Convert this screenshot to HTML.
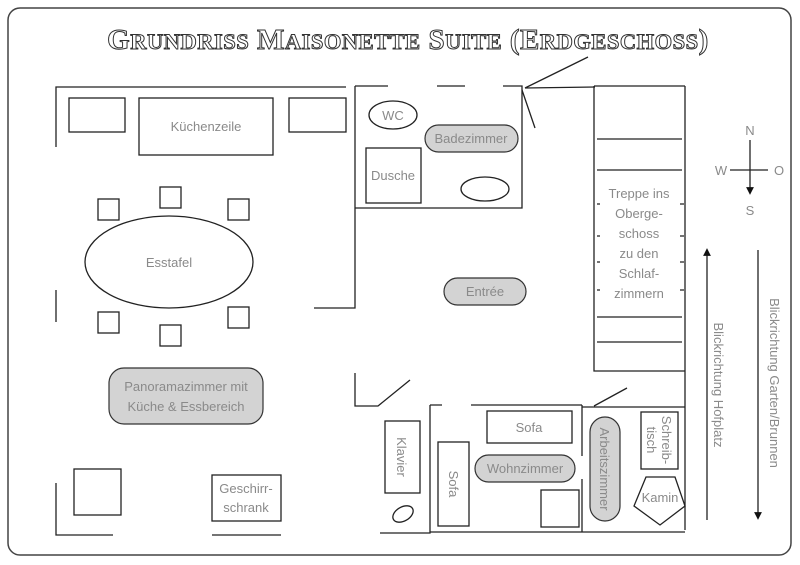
<!DOCTYPE html>
<html><head><meta charset="utf-8"><style>
html,body{margin:0;padding:0;background:#fff}
svg{display:block}
text{font-family:"Liberation Sans",sans-serif;font-size:13px;fill:#8a8a8a}
.t{font-family:"Liberation Serif",serif;font-size:29px;font-weight:bold;fill:#fff;stroke:#333;stroke-width:1;letter-spacing:0.5px}
</style></head><body>
<svg width="800" height="565" viewBox="0 0 800 565" xmlns="http://www.w3.org/2000/svg">
<defs><marker id="a" markerWidth="6" markerHeight="6" refX="3" refY="3" orient="auto"><path d="M0,0L6,3L0,6z" fill="#111"/></marker></defs>
<rect x="8" y="8" width="783" height="547" rx="12" fill="none" stroke="#444" stroke-width="1.5"/>
<text class="t" x="408" y="49" text-anchor="middle">G<tspan font-size="22.5">RUNDRISS</tspan> M<tspan font-size="22.5">AISONETTE</tspan> S<tspan font-size="22.5">UITE</tspan> (E<tspan font-size="22.5">RDGESCHOSS</tspan>)</text>
<g fill="none" stroke="#222" stroke-width="1.3">
<path d="M56,147V87H346M56,290V322M56,483V535H113M212,535H281"/>
<path d="M355,86V308H314M355,86H388M437,86H465M503,86H522V208H355"/>
<path d="M522,90L535,128M525,88L588,57M525,88L595,87"/>
<path d="M685,86V530M594,86H685M594,86V371H685"/>
<path d="M597,139H682M597,170H682M597,317H682M597,342H682"/>
<path d="M597,204H600M680,204H684M597,236H600M680,236H684M597,262H600M680,262H684M597,290H600M680,290H684"/>
<path d="M355,373V406H378L410,380M430,405H442M471,405H582M594,406L627,388M582,407H685"/>
<path d="M430,405V533H380M430,532H582M582,405V456M582,479V532H685"/>
<rect x="69" y="98" width="56" height="34"/><rect x="139" y="98" width="134" height="57"/><rect x="289" y="98" width="57" height="34"/>
<rect x="98" y="199" width="21" height="21"/><rect x="160" y="187" width="21" height="21"/><rect x="228" y="199" width="21" height="21"/>
<rect x="98" y="312" width="21" height="21"/><rect x="160" y="325" width="21" height="21"/><rect x="228" y="307" width="21" height="21"/>
<ellipse cx="169" cy="262" rx="84" ry="46"/>
<rect x="74" y="469" width="47" height="46"/><rect x="212" y="475" width="69" height="46"/>
<ellipse cx="393" cy="115" rx="24" ry="14"/><rect x="366" y="148" width="55" height="55"/><ellipse cx="485" cy="189" rx="24" ry="12"/>
<rect x="385" y="421" width="35" height="72"/><ellipse cx="403" cy="514" rx="11" ry="7" transform="rotate(-30 403 514)"/>
<rect x="438" y="442" width="31" height="84"/><rect x="487" y="411" width="85" height="32"/>
<rect x="541" y="490" width="38" height="37"/><rect x="641" y="412" width="37" height="57"/>
<path d="M646,477H675L685,506L660,525L634,506Z"/>
<path d="M707,520V252" marker-end="url(#a)"/><path d="M758,250V516" marker-end="url(#a)"/>
<path d="M750,140V191" marker-end="url(#a)"/><path d="M730,170H768"/>
</g>
<g fill="#d3d3d3" stroke="#333" stroke-width="1.2">
<rect x="425" y="125" width="93" height="27" rx="13.5"/>
<rect x="444" y="278" width="82" height="27" rx="13.5"/>
<rect x="109" y="368" width="154" height="56" rx="15"/>
<rect x="475" y="455" width="100" height="27" rx="13.5"/>
<rect x="590" y="417" width="30" height="104" rx="15"/>
</g>
<text x="206" y="131" text-anchor="middle">Küchenzeile</text>
<text x="169" y="267" text-anchor="middle">Esstafel</text>
<text x="186" y="391" text-anchor="middle" font-size="14">Panoramazimmer mit</text>
<text x="186" y="411" text-anchor="middle" font-size="14">Küche &amp; Essbereich</text>
<text x="246" y="493" text-anchor="middle">Geschirr-</text>
<text x="246" y="512" text-anchor="middle">schrank</text>
<text x="393" y="120" text-anchor="middle">WC</text>
<text x="471" y="143" text-anchor="middle">Badezimmer</text>
<text x="393" y="180" text-anchor="middle">Dusche</text>
<text x="485" y="296" text-anchor="middle">Entrée</text>
<g text-anchor="middle"><text x="639" y="198">Treppe ins</text><text x="639" y="218">Oberge-</text><text x="639" y="238">schoss</text><text x="639" y="258">zu den</text><text x="639" y="278">Schlaf-</text><text x="639" y="298">zimmern</text></g>
<text x="529" y="432" text-anchor="middle">Sofa</text>
<text x="525" y="473" text-anchor="middle">Wohnzimmer</text>
<text x="660" y="502" text-anchor="middle">Kamin</text>
<text transform="translate(397,457) rotate(90)" text-anchor="middle">Klavier</text>
<text transform="translate(449,484) rotate(90)" text-anchor="middle">Sofa</text>
<text transform="translate(600,469) rotate(90)" text-anchor="middle">Arbeitszimmer</text>
<text transform="translate(662,440) rotate(90)" text-anchor="middle">Schreib-</text>
<text transform="translate(647,440) rotate(90)" text-anchor="middle">tisch</text>
<text transform="translate(714,385) rotate(90)" text-anchor="middle">Blickrichtung Hofplatz</text>
<text transform="translate(770,383) rotate(90)" text-anchor="middle">Blickrichtung Garten/Brunnen</text>
<text x="750" y="135" text-anchor="middle">N</text><text x="750" y="215" text-anchor="middle">S</text>
<text x="721" y="175" text-anchor="middle">W</text><text x="779" y="175" text-anchor="middle">O</text>
</svg>
</body></html>
